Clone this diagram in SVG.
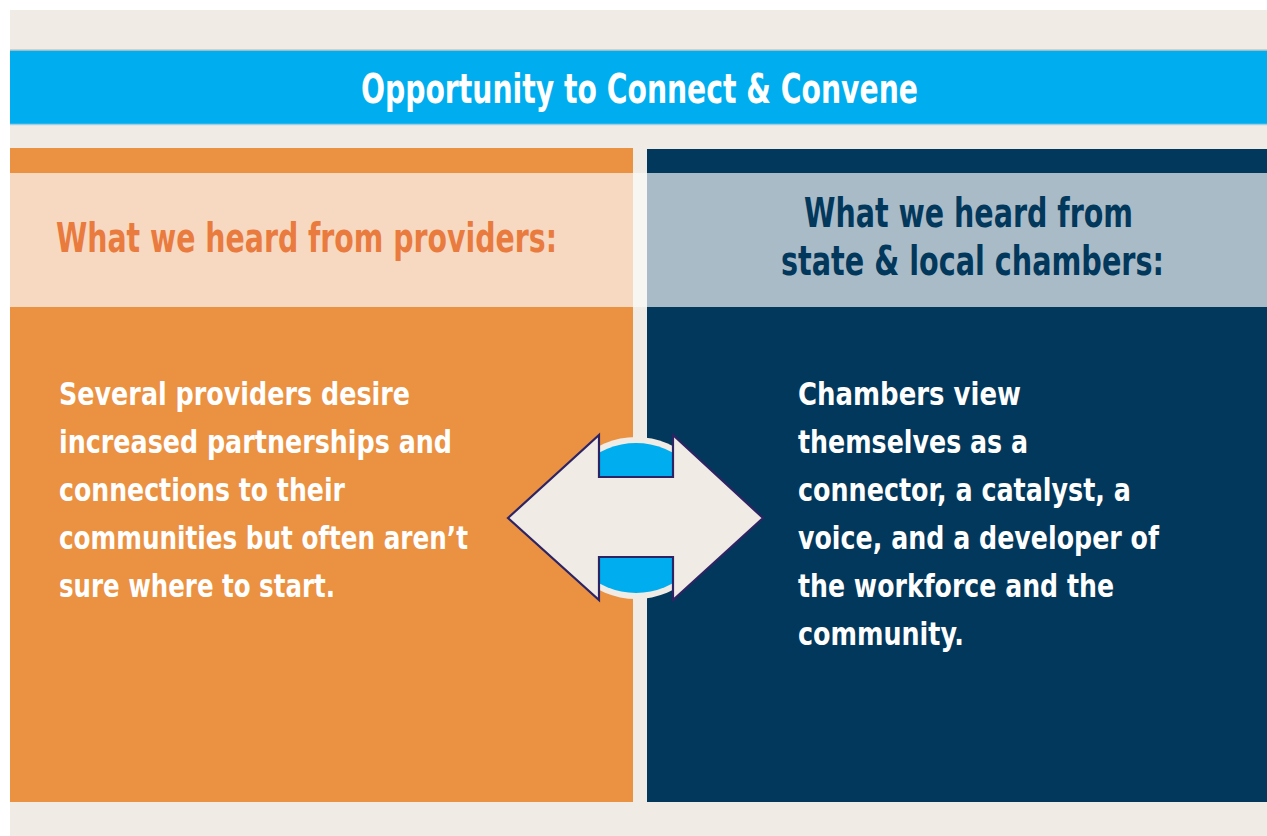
<svg xmlns="http://www.w3.org/2000/svg" width="1267" height="836" viewBox="0 0 1267 836">
<style>
.t{font-family:"Liberation Sans Narrow","DejaVu Sans Condensed","Liberation Sans",Arial,sans-serif;font-weight:bold;}
.hd{font-size:41px;}
.bd{font-size:32px;fill:#ffffff;}
</style>
<rect x="0" y="0" width="1267" height="836" fill="#ffffff"/>
<rect x="10" y="10" width="1257" height="826" fill="#F0EBE5"/>
<g id="banner">
<rect x="10" y="50" width="1257" height="74" fill="#00AEEF"/>
<line x1="10" y1="50" x2="1267" y2="50" stroke="#C9C6C3" stroke-width="1.5"/>
<line x1="10" y1="124.5" x2="1267" y2="124.5" stroke="#9FCFE6" stroke-width="1.5"/>
<text class="t hd" transform="scale(0.8,1)" x="451.25" y="103" fill="#ffffff" textLength="696.25" lengthAdjust="spacingAndGlyphs">Opportunity to Connect &amp; Convene</text>
</g>
<rect x="633" y="173" width="14" height="134" fill="#F8F6F3"/>
<g id="providers">
<rect x="10" y="148" width="623" height="654" fill="#EB9142"/>
<rect x="10" y="173" width="623" height="134" fill="#F7D9C1"/>
<g transform="scale(0.8,1)">
<text class="t hd" x="70" y="252" fill="#E97B3F" textLength="626.25" lengthAdjust="spacingAndGlyphs">What we heard from providers:</text>
<text class="t bd" x="73.75" y="405" textLength="438.75" lengthAdjust="spacingAndGlyphs">Several providers desire</text>
<text class="t bd" x="73.75" y="453" textLength="491.25" lengthAdjust="spacingAndGlyphs">increased partnerships and</text>
<text class="t bd" x="73.75" y="501" textLength="357.5" lengthAdjust="spacingAndGlyphs">connections to their</text>
<text class="t bd" x="73.75" y="549" textLength="511.25" lengthAdjust="spacingAndGlyphs">communities but often aren’t</text>
<text class="t bd" x="73.75" y="597" textLength="345" lengthAdjust="spacingAndGlyphs">sure where to start.</text>
</g>
</g>
<g id="chambers">
<rect x="647" y="149" width="620" height="653" fill="#02385B"/>
<rect x="647" y="173" width="620" height="134" fill="#AABBC8"/>
<g transform="scale(0.8,1)">
<text class="t hd" x="1005" y="227" fill="#02385B" textLength="411.25" lengthAdjust="spacingAndGlyphs">What we heard from</text>
<text class="t hd" x="976.25" y="275" fill="#02385B" textLength="478.75" lengthAdjust="spacingAndGlyphs">state &amp; local chambers:</text>
<text class="t bd" x="997.5" y="405" textLength="278.75" lengthAdjust="spacingAndGlyphs">Chambers view</text>
<text class="t bd" x="997.5" y="453" textLength="287.5" lengthAdjust="spacingAndGlyphs">themselves as a</text>
<text class="t bd" x="997.5" y="501" textLength="416.25" lengthAdjust="spacingAndGlyphs">connector, a catalyst, a</text>
<text class="t bd" x="997.5" y="549" textLength="451.25" lengthAdjust="spacingAndGlyphs">voice, and a developer of</text>
<text class="t bd" x="997.5" y="597" textLength="395" lengthAdjust="spacingAndGlyphs">the workforce and the</text>
<text class="t bd" x="997.5" y="645" textLength="207.5" lengthAdjust="spacingAndGlyphs">community.</text>
</g>
</g>
<g id="connectors">
<rect x="633" y="307" width="14" height="495" fill="#F0EBE5"/>
<circle cx="636" cy="518" r="81" fill="#F0EBE5"/>
<circle cx="636" cy="518" r="75" fill="#00AEEF"/>
<path d="M508,518 L599,435 L599,477 L673,477 L673,435 L763,518 L673,600 L673,557 L599,557 L599,600 Z" fill="#F0EBE5" stroke="#2E2464" stroke-width="2.2" stroke-linejoin="miter"/>
</g>
</svg>
